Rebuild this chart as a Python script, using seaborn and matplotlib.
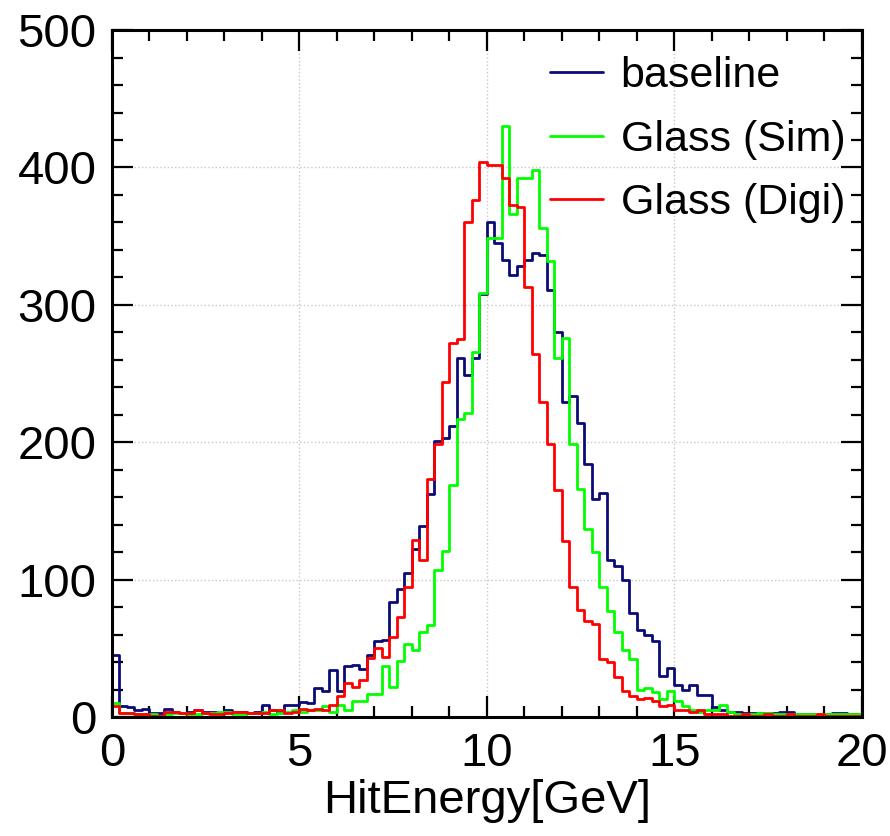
import numpy as np
import pandas as pd
import matplotlib
matplotlib.use("Agg")
import matplotlib.pyplot as plt
from matplotlib.ticker import MultipleLocator
import seaborn as sns

# ========================
# Histogram contents (100 bins, 0-20 GeV)
# ========================
n_bins = 100
x_range = (0, 20)

baseline = [45, 8, 7, 5, 6, 3, 3, 6, 4, 3, 4, 5, 4, 4, 3, 5, 4, 4, 3, 4, 9, 5, 4, 9, 9,
            11, 10, 21, 19, 34, 19, 37, 38, 35, 45, 55, 56, 84, 93, 105, 122, 139, 162, 201, 203, 212, 261, 249, 261, 308,
            360, 345, 333, 322, 328, 333, 338, 336, 311, 280, 229, 234, 214, 184, 159, 163, 114, 110, 100, 76, 63, 60, 55, 30, 36,
            23, 20, 23, 16, 16, 7, 5, 4, 4, 3, 3, 3, 3, 3, 4, 4, 2, 2, 2, 2, 2, 3, 3, 2, 2]

glass_sim = [10, 3, 3, 2, 2, 2, 1, 2, 3, 3, 2, 2, 3, 3, 4, 4, 2, 2, 3, 3, 4, 2, 3, 4, 5,
             4, 5, 5, 8, 4, 9, 5, 12, 12, 17, 17, 37, 22, 41, 53, 49, 62, 67, 107, 121, 169, 217, 221, 266, 309,
             349, 349, 430, 366, 392, 392, 398, 356, 332, 261, 276, 199, 166, 137, 120, 95, 77, 62, 49, 42, 20, 21, 18, 13, 19,
             12, 8, 5, 4, 5, 5, 9, 4, 2, 2, 2, 3, 3, 2, 2, 2, 2, 2, 2, 2, 2, 2, 2, 2, 2]

glass_digi = [8, 3, 3, 2, 2, 1, 1, 4, 4, 3, 3, 5, 3, 2, 2, 3, 4, 4, 3, 3, 3, 5, 5, 3, 4,
              6, 5, 6, 5, 9, 15, 25, 22, 27, 43, 50, 44, 58, 73, 95, 129, 114, 173, 199, 244, 272, 275, 360, 376, 404,
              402, 402, 392, 373, 371, 313, 264, 229, 199, 165, 128, 95, 78, 70, 68, 42, 40, 29, 19, 15, 13, 14, 12, 8, 9,
              5, 5, 4, 5, 2, 2, 2, 1, 1, 2, 1, 1, 2, 1, 1, 2, 1, 1, 1, 2, 1, 1, 1, 1, 1]

labels = ["baseline", "Glass (Sim)", "Glass (Digi)"]
colors = ["#0b0b78", "#00ff00", "#ff0000"]

bin_edges = np.linspace(x_range[0], x_range[1], n_bins + 1)
centers = 0.5 * (bin_edges[:-1] + bin_edges[1:])

# ========================
# Style (ROOT-like)
# ========================
sns.set_style("ticks")
plt.rcParams["font.family"] = ["Liberation Sans", "DejaVu Sans"]
for key in ["text.color", "axes.edgecolor", "axes.labelcolor", "xtick.color", "ytick.color"]:
    plt.rcParams[key] = "black"

fig = plt.figure(figsize=(8.9, 8.36), dpi=100)
ax = fig.add_axes([0.1258, 0.1423, 0.8427, 0.8217])

for vals, lab, col in zip([baseline, glass_sim, glass_digi], labels, colors):
    df = pd.DataFrame({"energy": centers, "count": vals})
    sns.histplot(data=df, x="energy", weights="count", bins=n_bins,
                 binrange=x_range, element="step", fill=False, color=col,
                 linewidth=2.0, label=lab, ax=ax)

ax.set_xlim(0, 20)
ax.set_ylim(0, 500)
ax.xaxis.set_major_locator(MultipleLocator(5))
ax.xaxis.set_minor_locator(MultipleLocator(1))
ax.yaxis.set_major_locator(MultipleLocator(100))
ax.yaxis.set_minor_locator(MultipleLocator(20))
ax.tick_params(which="both", direction="in", top=True, right=True, width=1.6,
               labelsize=34, pad=11)
ax.tick_params(which="major", length=15)
ax.tick_params(which="minor", length=8)
for sp in ax.spines.values():
    sp.set_linewidth(2.2)

ax.grid(True, which="major", linestyle=":", color="#c8c8c8", linewidth=1.0)
ax.set_axisbelow(True)

ax.set_xlabel("HitEnergy[GeV]", fontsize=34, labelpad=2)
ax.set_ylabel("")

ax.legend(loc="upper right", bbox_to_anchor=(1.012, 1.0), frameon=False,
          fontsize=31, handlelength=1.23, handletextpad=0.4, labelspacing=0.55,
          borderaxespad=0.2)

plt.savefig("out.png", dpi=100)
